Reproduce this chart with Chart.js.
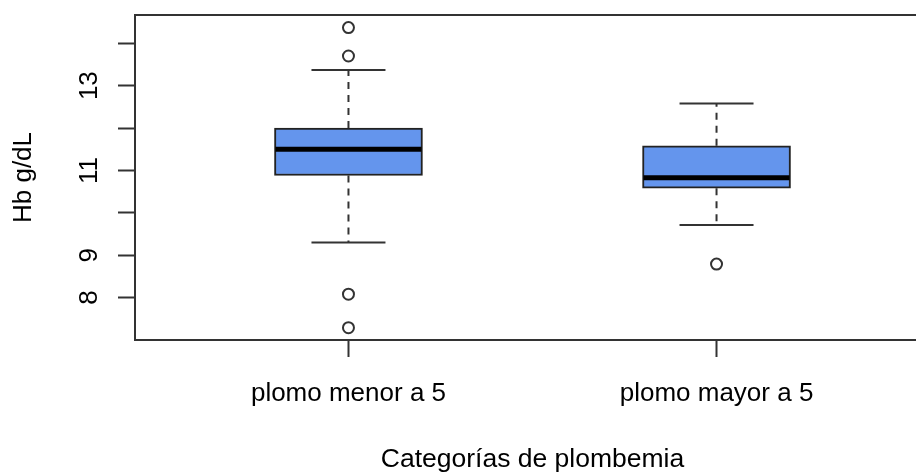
<!DOCTYPE html>
<html><head><meta charset="utf-8">
<script src="https://cdn.jsdelivr.net/npm/chart.js@4"></script>
<style>
html,body{margin:0;padding:0;background:#fff;overflow:hidden;width:916px;height:474px}
#wrap{position:relative;width:930px;height:474px}
</style>
</head><body><div id="wrap"><canvas id="c" width="930" height="474"></canvas></div>
<script>
const categories = ["plomo menor a 5", "plomo mayor a 5"];
const lowerWhisker = [9.30, 9.71];
const q1 = [10.88, 10.58];
const median = [11.50, 10.83];
const q3 = [12.00, 11.58];
const upperWhisker = [13.37, 12.58];
const outliers = [[14.37, 13.70, 8.08, 7.29], [8.79]];
const yTicks = [8, 9, 10, 11, 12, 13, 14];
const yTickLabels = ["8", "9", "", "11", "", "13", ""];
const xTitle = "Categorías de plombemia";
const yTitle = "Hb g/dL";

const FONT = '"Liberation Sans", Arial, sans-serif';
const INK = '#333';
const TXT = '#000';

const boxData = categories.map((c, i) => ({x: i + 1, y: [q1[i], q3[i]]}));
const medData = categories.map((c, i) => ({x: i + 1, y: median[i]}));
const capData = [];
const whiskData = [];
categories.forEach((c, i) => {
  capData.push({x: i + 1, y: upperWhisker[i]}, {x: i + 1, y: lowerWhisker[i]});
  whiskData.push({x: i + 1, y: q3[i]}, {x: i + 1, y: upperWhisker[i]}, {x: i + 1, y: null});
  whiskData.push({x: i + 1, y: q1[i]}, {x: i + 1, y: lowerWhisker[i]}, {x: i + 1, y: null});
});
const outData = [];
outliers.forEach((arr, i) => arr.forEach(v => outData.push({x: i + 1, y: v})));

const framePlugin = {
  id: 'frameAndLabels',
  afterDraw(chart) {
    const {ctx, chartArea: a, scales} = chart;
    ctx.save();
    ctx.strokeStyle = INK;
    ctx.lineWidth = 2;
    ctx.strokeRect(a.left, a.top, a.right - a.left, a.bottom - a.top);
    ctx.fillStyle = TXT;
    ctx.font = '26px ' + FONT;
    ctx.textAlign = 'center';
    ctx.textBaseline = 'alphabetic';
    yTicks.forEach((v, i) => {
      const lab = yTickLabels[i];
      if (!lab) return;
      const py = scales.y.getPixelForValue(v);
      ctx.save();
      ctx.translate(97, py);
      ctx.rotate(-Math.PI / 2);
      ctx.fillText(lab, 0, 0);
      ctx.restore();
    });
    ctx.restore();
  }
};

new Chart(document.getElementById('c'), {
  data: {
    datasets: [
      {type: 'scatter', data: outData, pointStyle: 'circle', pointRadius: 5.5, borderWidth: 2,
       borderColor: INK, backgroundColor: 'rgba(0,0,0,0)', order: 0},
      {type: 'scatter', data: medData, pointStyle: 'line', pointRadius: 73, borderWidth: 5,
       borderColor: '#000', order: 0},
      {type: 'bar', data: boxData, backgroundColor: '#6495ED', borderColor: '#222', borderWidth: 2,
       borderSkipped: false, barThickness: 148, order: 1},
      {type: 'scatter', data: capData, pointStyle: 'line', pointRadius: 37, borderWidth: 2,
       borderColor: INK, order: 2},
      {type: 'scatter', data: whiskData, showLine: true, spanGaps: false, pointRadius: 0,
       borderColor: INK, borderWidth: 2, borderDash: [7, 6], order: 2}
    ]
  },
  options: {
    responsive: false,
    animation: false,
    events: [],
    layout: {padding: {top: 15, left: 0, right: 0, bottom: 0}, autoPadding: false},
    plugins: {legend: {display: false}, tooltip: {enabled: false}},
    scales: {
      x: {
        type: 'linear', min: 0.42, max: 2.58, offset: false,
        afterBuildTicks: s => { s.ticks = categories.map((c, i) => ({value: i + 1})); },
        afterFit: s => { s.height = 134; },
        ticks: {callback: v => categories[v - 1] || '', autoSkip: false, maxRotation: 0,
                font: {family: FONT, size: 26}, color: TXT, padding: 21},
        grid: {offset: false, drawOnChartArea: false, drawTicks: true, tickLength: 17, tickWidth: 2, tickColor: INK},
        border: {display: true, color: INK, width: 2},
        title: {display: true, text: xTitle, font: {family: FONT, size: 26.5}, color: TXT,
                padding: {top: 0, bottom: -2}}
      },
      y: {
        type: 'linear', min: 7.0, max: 14.667,
        afterBuildTicks: s => { s.ticks = yTicks.map(v => ({value: v})); },
        afterFit: s => { s.width = 135; },
        ticks: {display: false},
        grid: {drawOnChartArea: false, drawTicks: true, tickLength: 17, tickWidth: 2, tickColor: INK},
        border: {display: true, color: INK, width: 2},
        title: {display: true, text: yTitle, font: {family: FONT, size: 26}, color: TXT,
                padding: {top: 8, bottom: 0}}
      }
    }
  },
  plugins: [framePlugin]
});
</script>
</body></html>
